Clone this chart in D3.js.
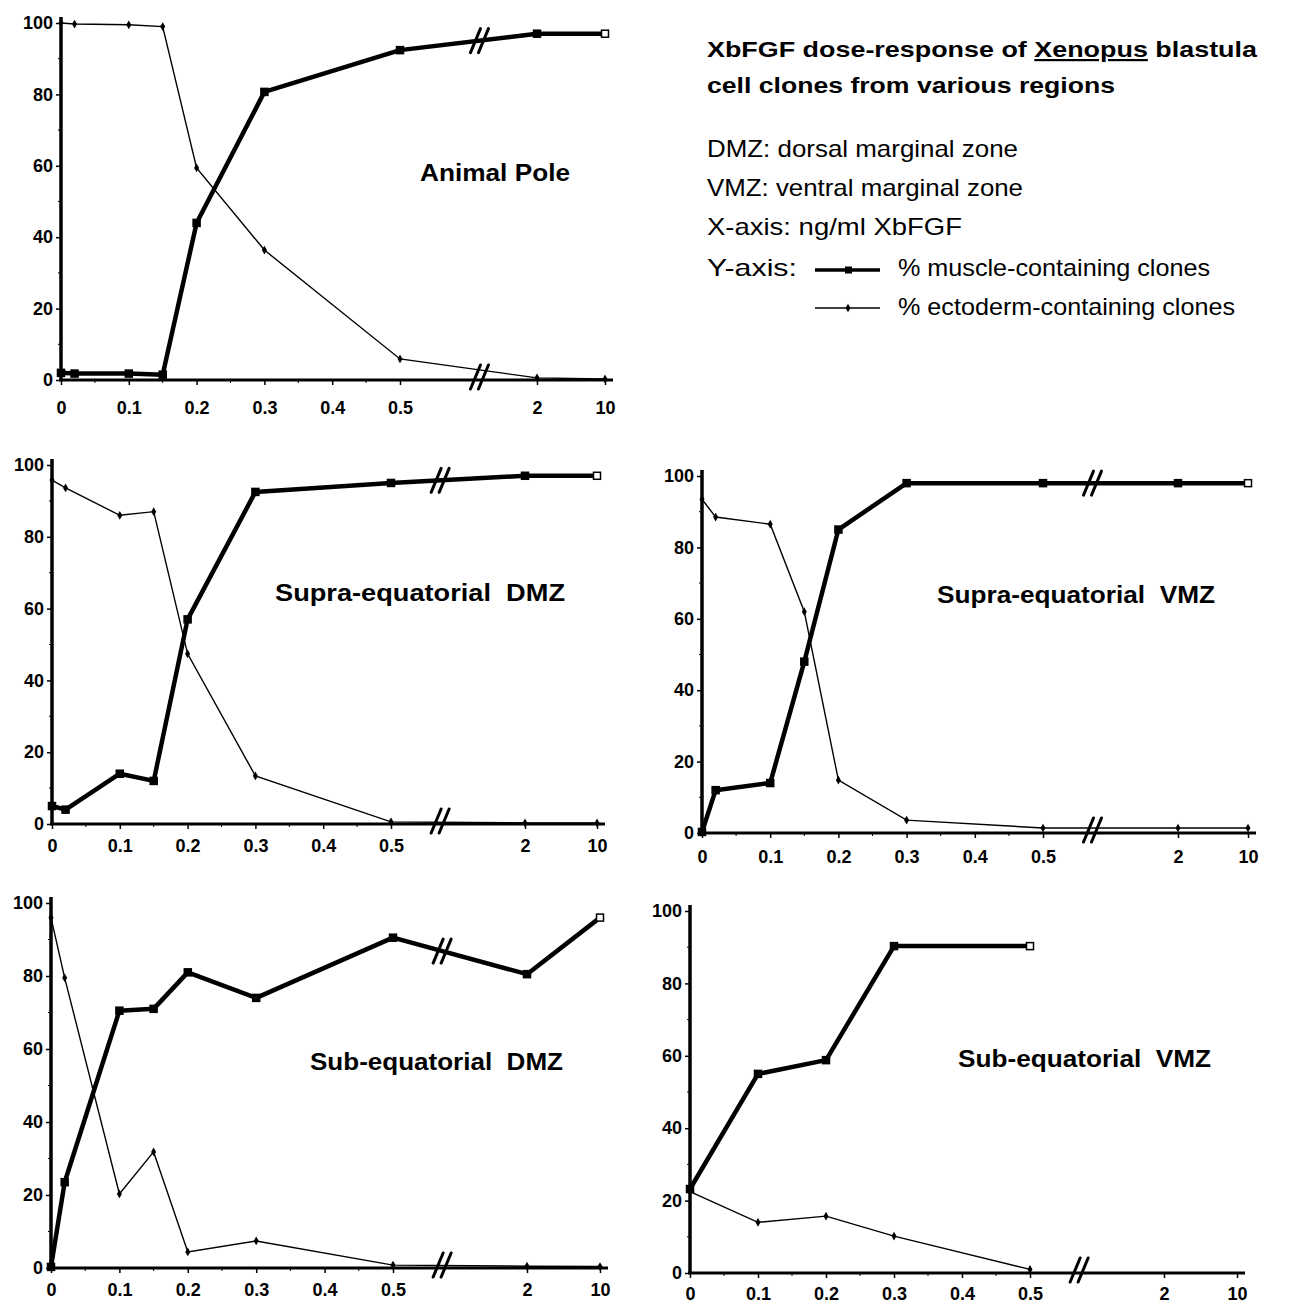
<!DOCTYPE html>
<html><head><meta charset="utf-8">
<script src="https://cdn.jsdelivr.net/npm/d3@7"></script>
<style>
html,body{margin:0;padding:0;background:#fff;}
svg{display:block;}
text{font-family:"Liberation Sans",Arial,Helvetica,sans-serif;fill:#000;}
</style></head>
<body>
<script>
// ---------- DATA ----------
const tickDoses = [0, 0.1, 0.2, 0.3, 0.4, 0.5, 2, 10];
const tickLabels = ["0", "0.1", "0.2", "0.3", "0.4", "0.5", "2", "10"];
const yTicks = [0, 20, 40, 60, 80, 100];
const panelTitles = ["Animal Pole", "Supra-equatorial  DMZ", "Supra-equatorial  VMZ", "Sub-equatorial  DMZ", "Sub-equatorial  VMZ"];

const dosesFull = [0, 0.02, 0.1, 0.15, 0.2, 0.3, 0.5, 2, 10];
const dosesSubVMZ = [0, 0.1, 0.2, 0.3, 0.5];

const muscleAnimalPole = [2, 1.8, 1.8, 1.5, 44, 80.7, 92.4, 97, 97];
const ectodermAnimalPole = [100, 99.7, 99.5, 99, 59.4, 36.4, 5.9, 0.6, 0.3];

const muscleSupraDMZ = [5, 4, 14, 12, 57, 92.5, 95, 97, 97];
const ectodermSupraDMZ = [95.8, 93.6, 86, 87, 47.4, 13.4, 0.6, 0.3, 0.3];

const muscleSupraVMZ = [0.3, 12, 14, 48, 85, 98, 98, 98, 98];
const ectodermSupraVMZ = [93.5, 88.5, 86.5, 62, 14.8, 3.6, 1.4, 1.4, 1.4];

const muscleSubDMZ = [0.3, 23.5, 70.5, 71, 81, 74, 90.5, 80.5, 96];
const ectodermSubDMZ = [96, 79.5, 20.3, 31.8, 4.4, 7.4, 0.8, 0.5, 0.4];

const muscleSubVMZ = [23.2, 55, 58.8, 90.3, 90.3];
const ectodermSubVMZ = [22.5, 14, 15.7, 10.2, 1];

const legendTitle1 = ["XbFGF dose-response of ", "Xenopus", " blastula"];
const legendTitle2 = "cell clones from various regions";
const legendLines = ["DMZ: dorsal marginal zone", "VMZ: ventral marginal zone", "X-axis: ng/ml XbFGF", "Y-axis:"];
const seriesNames = ["% muscle-containing clones", "% ectoderm-containing clones"];

// ---------- LAYOUT ----------
const panels = [
  {doses: dosesFull, muscle: muscleAnimalPole, ecto: ectodermAnimalPole, title: panelTitles[0],
   xr: [61, 400, 537, 605], yr: [380, 23], breakDose: 1.37, topBreak: true, tx: 420, ty: 181, tw: 150, pad: 16},
  {doses: dosesFull, muscle: muscleSupraDMZ, ecto: ectodermSupraDMZ, title: panelTitles[1],
   xr: [52, 391, 525, 597], yr: [824, 465], breakDose: 1.05, topBreak: true, tx: 275, ty: 601, tw: 290, pad: 10},
  {doses: dosesFull, muscle: muscleSupraVMZ, ecto: ectodermSupraVMZ, title: panelTitles[2],
   xr: [702, 1043, 1178, 1248], yr: [833, 476], breakDose: 1.05, topBreak: true, tx: 937, ty: 603, tw: 278, pad: 12},
  {doses: dosesFull, muscle: muscleSubDMZ, ecto: ectodermSubDMZ, title: panelTitles[3],
   xr: [51, 393, 527, 600], yr: [1268, 903], breakDose: 1.05, topBreak: true, tx: 310, ty: 1070, tw: 253, pad: 10},
  {doses: dosesSubVMZ, muscle: muscleSubVMZ, ecto: ectodermSubVMZ, title: panelTitles[4],
   xr: [690, 1030, 1164, 1237], yr: [1273, 911], breakDose: 1.05, topBreak: false, tx: 958, ty: 1067, tw: 253, pad: 9}
];

const W = 1296, H = 1314;
const svg = d3.select("body").append("svg").attr("width", W).attr("height", H);

function breakMark(g, bx, by) {
  [-4, 4].forEach(off => {
    g.append("line")
      .attr("x1", bx + off - 5).attr("y1", by + 12)
      .attr("x2", bx + off + 5).attr("y2", by - 12)
      .attr("stroke", "#000").attr("stroke-width", 3).attr("stroke-linecap", "round");
  });
}

panels.forEach(p => {
  const g = svg.append("g");
  const x = d3.scaleLinear().domain([0, 0.5, 2, 10]).range(p.xr);
  const y = d3.scaleLinear().domain([0, 100]).range(p.yr);

  // x axis
  const xAxis = d3.axisBottom(x).tickValues(tickDoses).tickFormat((d, i) => tickLabels[i]).tickSize(5).tickPadding(p.pad);
  const xa = g.append("g").attr("transform", `translate(0,${p.yr[0]})`).call(xAxis);
  xa.select(".domain").remove();
  xa.selectAll(".tick line").attr("stroke", "#000").attr("stroke-width", 1.5);
  xa.selectAll(".tick text").attr("font-size", 18).attr("font-weight", "bold").style("font-family", '"Liberation Sans",Arial,sans-serif');
  g.append("line").attr("x1", p.xr[0] - 2).attr("x2", p.xr[3] + 8)
    .attr("y1", p.yr[0]).attr("y2", p.yr[0]).attr("stroke", "#000").attr("stroke-width", 3);
  // minor x ticks
  const minors = d3.range(0.05, 0.5, 0.1);
  g.selectAll(".mx").data(minors).join("line")
    .attr("x1", d => x(d)).attr("x2", d => x(d))
    .attr("y1", p.yr[0]).attr("y2", p.yr[0] + 3).attr("stroke", "#000").attr("stroke-width", 1);

  // y axis
  const yAxis = d3.axisLeft(y).tickValues(yTicks).tickSize(5).tickPadding(3);
  const ya = g.append("g").attr("transform", `translate(${p.xr[0]},0)`).call(yAxis);
  ya.select(".domain").remove();
  ya.selectAll(".tick line").attr("stroke", "#000").attr("stroke-width", 1.5);
  ya.selectAll(".tick text").attr("font-size", 18).attr("font-weight", "bold").style("font-family", '"Liberation Sans",Arial,sans-serif');
  g.selectAll(".my").data([10, 30, 50, 70, 90]).join("line")
    .attr("x1", p.xr[0] - 3).attr("x2", p.xr[0])
    .attr("y1", d => y(d)).attr("y2", d => y(d)).attr("stroke", "#000").attr("stroke-width", 1);
  g.append("line").attr("x1", p.xr[0]).attr("x2", p.xr[0])
    .attr("y1", p.yr[0] + 1).attr("y2", p.yr[1] - 6).attr("stroke", "#000").attr("stroke-width", 3.5);

  const line = d3.line().x(d => x(d[0])).y(d => y(d[1]));
  const ectoPts = p.doses.map((d, i) => [d, p.ecto[i]]);
  const musPts = p.doses.map((d, i) => [d, p.muscle[i]]);

  // ectoderm (thin)
  g.append("path").attr("d", line(ectoPts)).attr("fill", "none").attr("stroke", "#000").attr("stroke-width", 1.4);
  g.selectAll(".ed").data(ectoPts).join("path")
    .attr("d", d3.symbol(d3.symbolDiamond, 22))
    .attr("transform", d => `translate(${x(d[0])},${y(d[1])})`).attr("fill", "#000");

  // muscle (thick)
  g.append("path").attr("d", line(musPts)).attr("fill", "none").attr("stroke", "#000")
    .attr("stroke-width", 4.5).attr("stroke-linejoin", "round");
  g.selectAll(".ms").data(musPts).join("rect")
    .attr("x", d => x(d[0]) - 3.5).attr("y", d => y(d[1]) - 3.5).attr("width", 7).attr("height", 7)
    .attr("fill", (d, i) => i === musPts.length - 1 ? "#fff" : "#000")
    .attr("stroke", "#000").attr("stroke-width", 1.5);

  // breaks
  const bx = x(p.breakDose);
  breakMark(g, bx, p.yr[0] - 3);
  if (p.topBreak) {
    const i5 = p.doses.indexOf(0.5), i2 = p.doses.indexOf(2);
    const v = p.muscle[i5] + (p.breakDose - 0.5) / 1.5 * (p.muscle[i2] - p.muscle[i5]);
    breakMark(g, bx, y(v));
  }

  // title
  g.append("text").attr("x", p.tx).attr("y", p.ty).attr("font-size", 24).attr("font-weight", "bold")
    .attr("textLength", p.tw).attr("lengthAdjust", "spacingAndGlyphs")
    .style("white-space", "pre").text(p.title);
});

// ---------- LEGEND ----------
const lg = svg.append("g");
const t1 = lg.append("text").attr("x", 707).attr("y", 57).attr("font-size", 22).attr("font-weight", "bold")
  .attr("textLength", 550).attr("lengthAdjust", "spacingAndGlyphs").style("white-space", "pre");
t1.append("tspan").text(legendTitle1[0]);
t1.append("tspan").style("text-decoration", "underline").text(legendTitle1[1]);
t1.append("tspan").text(legendTitle1[2]);
lg.append("text").attr("x", 707).attr("y", 93).attr("font-size", 22).attr("font-weight", "bold")
  .attr("textLength", 408).attr("lengthAdjust", "spacingAndGlyphs").text(legendTitle2);

const ly = [157, 196, 235, 276];
const lw = [311, 316, 255, 90];
legendLines.forEach((t, i) => {
  lg.append("text").attr("x", 707).attr("y", ly[i]).attr("font-size", 24)
    .attr("textLength", lw[i]).attr("lengthAdjust", "spacingAndGlyphs").text(t);
});
// series legend
lg.append("line").attr("x1", 815).attr("x2", 880).attr("y1", 270).attr("y2", 270).attr("stroke", "#000").attr("stroke-width", 3.5);
lg.append("rect").attr("x", 845).attr("y", 266.5).attr("width", 7).attr("height", 7).attr("fill", "#000");
lg.append("line").attr("x1", 815).attr("x2", 880).attr("y1", 308).attr("y2", 308).attr("stroke", "#000").attr("stroke-width", 1.3);
lg.append("path").attr("d", d3.symbol(d3.symbolDiamond, 22)).attr("transform", "translate(848,308)").attr("fill", "#000");
lg.append("text").attr("x", 898).attr("y", 276).attr("font-size", 24)
  .attr("textLength", 312).attr("lengthAdjust", "spacingAndGlyphs").text(seriesNames[0]);
lg.append("text").attr("x", 898).attr("y", 315).attr("font-size", 24)
  .attr("textLength", 337).attr("lengthAdjust", "spacingAndGlyphs").text(seriesNames[1]);
</script>
</body></html>
